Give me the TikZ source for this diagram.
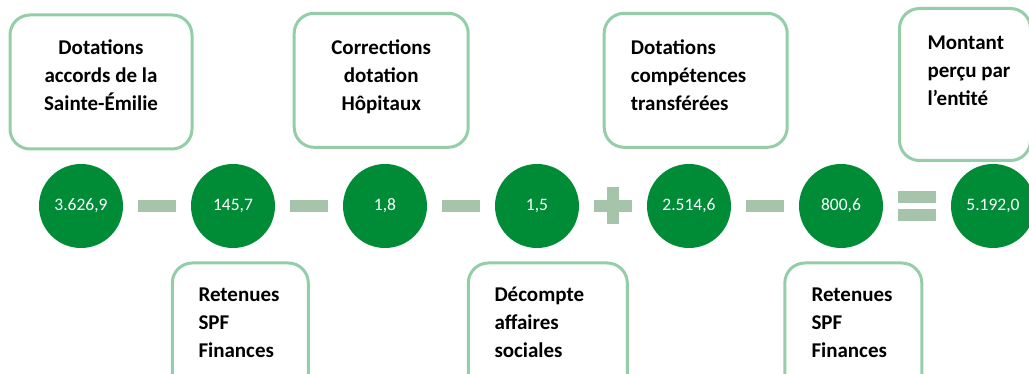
\documentclass[tikz,border=0pt]{standalone}
\usepackage{fontspec}
\setmainfont{Carlito}
\definecolor{circgreen}{RGB}{0,140,54}
\definecolor{opgreen}{RGB}{166,196,170}
\definecolor{boxgreen}{RGB}{148,206,168}
\begin{document}
\begin{tikzpicture}[x=1pt,y=-1pt,
  numcirc/.style={circle,fill=circgreen,minimum size=84pt,inner sep=0pt,text=white,font=\fontsize{17.5}{20}\selectfont},
  framebox/.style={draw=boxgreen,line width=3pt,rounded corners=20pt,fill=white,inner sep=0pt},
  boxtext/.style={font=\bfseries\fontsize{21}{28}\selectfont,inner sep=0pt},
  opbar/.style={fill=opgreen,draw=none}]
\useasboundingbox (0,0) rectangle (1029,374);
% boxes
\node[framebox,minimum width=182pt,minimum height=134pt] (b1) at (101,82) {};
\node[framebox,minimum width=174pt,minimum height=134pt] (b2) at (381.2,80.3) {};
\node[framebox,minimum width=183pt,minimum height=134pt] (b3) at (695.7,80.3) {};
\node[framebox,minimum width=131pt,minimum height=152pt] (b4) at (965,84.5) {};
\node[framebox,minimum width=136pt,minimum height=140pt] (b5) at (240.3,333) {};
\node[framebox,minimum width=159pt,minimum height=140pt] (b6) at (547.8,333) {};
\node[framebox,minimum width=137pt,minimum height=140pt] (b7) at (853.3,333) {};
% box texts (anchor base = last line)
\node[boxtext,align=center,anchor=base] (t1) at (101,111) {Dotations\\accords de la\\Sainte-Émilie};
\node[boxtext,align=center,anchor=base] (t2) at (381.2,110.3) {Corrections\\dotation\\Hôpitaux};
\node[boxtext,align=left,anchor=base west] (t3) at (630.7,110.3) {Dotations\\compétences\\transférées};
\node[boxtext,align=left,anchor=base west] (t4) at (927.3,105.3) {Montant\\perçu par\\l’entité};
\node[boxtext,align=left,anchor=base west] (t5) at (198.3,357.7) {Retenues\\SPF\\Finances};
\node[boxtext,align=left,anchor=base west] (t6) at (494.3,357.7) {Décompte\\affaires\\sociales};
\node[boxtext,align=left,anchor=base west] (t7) at (811.3,357.7) {Retenues\\SPF\\Finances};
% circles
\node[numcirc] (c1) at (81,206) {3.626,9};
\node[numcirc] (c2) at (233,206) {145,7};
\node[numcirc] (c3) at (385,206) {1,8};
\node[numcirc] (c4) at (537,206) {1,5};
\node[numcirc] (c5) at (689,206) {2.514,6};
\node[numcirc] (c6) at (841,206) {800,6};
\node[numcirc] (c7) at (993,206) {5.192,0};
% operators
\fill[opgreen] (138,200) rectangle (176,211.7);
\fill[opgreen] (290,200) rectangle (328,211.7);
\fill[opgreen] (442,200) rectangle (480,211.7);
\fill[opgreen] (594,200) rectangle (631.7,211.7);
\fill[opgreen] (606.7,187.3) rectangle (619,224.3);
\fill[opgreen] (746,200) rectangle (784,211.7);
\fill[opgreen] (898,191) rectangle (935.7,202.7);
\fill[opgreen] (898,209) rectangle (935.7,220.7);
\end{tikzpicture}
\end{document}
